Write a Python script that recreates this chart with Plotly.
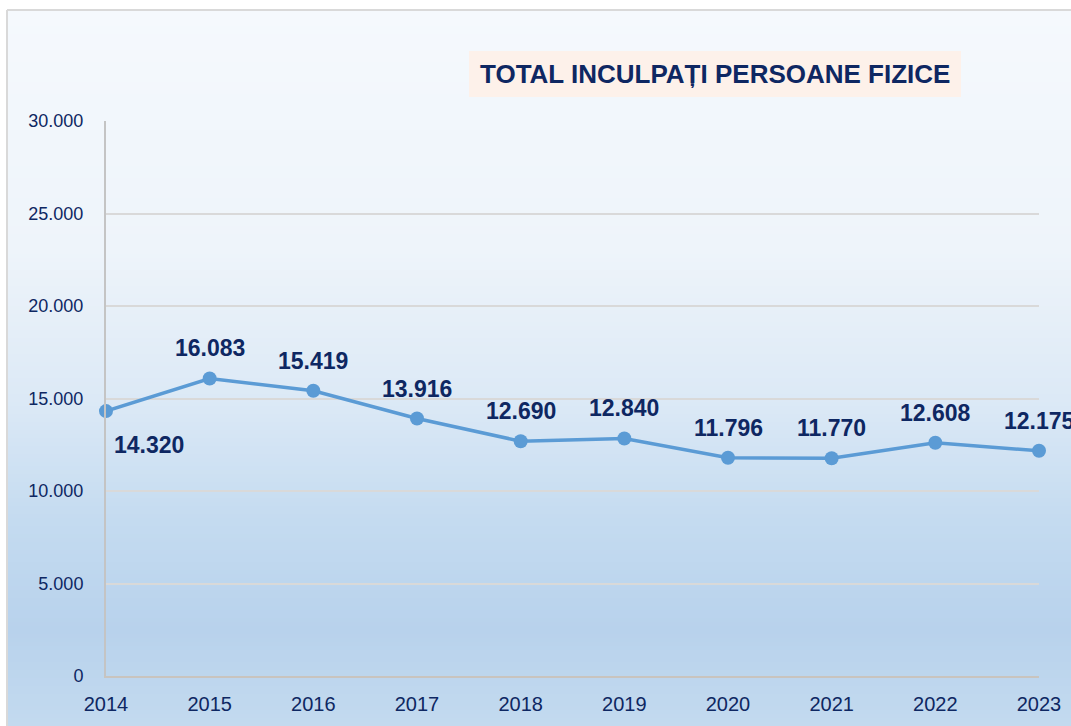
import plotly.graph_objects as go

# ---- data ----
years = [2014, 2015, 2016, 2017, 2018, 2019, 2020, 2021, 2022, 2023]
values = [14320, 16083, 15419, 13916, 12690, 12840, 11796, 11770, 12608, 12175]
y_ticks = [0, 5000, 10000, 15000, 20000, 25000, 30000]
y_tick_labels = ["0", "5.000", "10.000", "15.000", "20.000", "25.000", "30.000"]
x_tick_labels = [str(y) for y in years]
title_text = "TOTAL INCULPAȚI PERSOANE FIZICE"

W, H = 1071, 726
L, R, T, B = 106, 32, 121, 50
PW, PH = W - L - R, H - T - B

NAVY = "#0e2762"
FONT = "Liberation Sans, Arial, sans-serif"


def px_x(px):
    return (px - L) / PW


def px_y(py):
    return (H - B - py) / PH


def hex2rgb(h):
    h = h.lstrip("#")
    return [int(h[i:i + 2], 16) for i in (0, 2, 4)]


# background gradient stops (pixel y, colour)
stops = [(10, "#f5f9fd"), (250, "#eef4fa"), (400, "#dce9f6"), (520, "#c4dbf0"),
         (630, "#b8d2ec"), (726, "#c3daef")]


def colour_at(py):
    for (y0, c0), (y1, c1) in zip(stops[:-1], stops[1:]):
        if y0 <= py <= y1:
            t = (py - y0) / (y1 - y0)
            a, b = hex2rgb(c0), hex2rgb(c1)
            return "rgb(%d,%d,%d)" % tuple(round(a[i] + (b[i] - a[i]) * t) for i in range(3))
    return stops[-1][1]


shapes = []
step = 4
py = 10
while py < H:
    shapes.append(dict(type="rect", xref="paper", yref="paper", layer="below",
                       x0=px_x(7), x1=px_x(W + 5), y0=px_y(py), y1=px_y(min(py + step + 1, H + 2)),
                       fillcolor=colour_at(py + step / 2), line=dict(width=0)))
    py += step

# frame border (top and left)
shapes.append(dict(type="line", xref="paper", yref="paper", layer="below",
                   x0=px_x(7), x1=px_x(W + 5), y0=px_y(10), y1=px_y(10),
                   line=dict(color="#d9d9d9", width=2)))
shapes.append(dict(type="line", xref="paper", yref="paper", layer="below",
                   x0=px_x(7), x1=px_x(7), y0=px_y(10), y1=px_y(H + 5),
                   line=dict(color="#d9d9d9", width=2)))
# title box
shapes.append(dict(type="rect", xref="paper", yref="paper", layer="below",
                   x0=px_x(469), x1=px_x(961), y0=px_y(97), y1=px_y(51),
                   fillcolor="#fdf1ea", line=dict(width=0)))

fig = go.Figure()
fig.add_trace(go.Scatter(
    x=years, y=values, mode="lines+markers",
    line=dict(color="#5b9bd5", width=3.5),
    marker=dict(color="#5b9bd5", size=14),
    cliponaxis=False, hoverinfo="skip", showlegend=False,
))

annotations = []
for i, (x, v) in enumerate(zip(years, values)):
    label = f"{v:,}".replace(",", ".")
    if i == 0:
        xs, ys = 43, -34
    else:
        xs, ys = 0, 30
    annotations.append(dict(x=x, y=v, xref="x", yref="y", text="<b>" + label + "</b>",
                            showarrow=False, xshift=xs, yshift=ys,
                            font=dict(family=FONT, size=23, color=NAVY)))

annotations.append(dict(x=px_x(715), y=px_y(74), xref="paper", yref="paper",
                        text="<b>" + title_text + "</b>", showarrow=False,
                        xanchor="center", yanchor="middle",
                        font=dict(family=FONT, size=26, color=NAVY)))

fig.update_layout(
    width=W, height=H,
    margin=dict(l=L, r=R, t=T, b=B, pad=0, autoexpand=False),
    paper_bgcolor="white",
    plot_bgcolor="rgba(0,0,0,0)",
    shapes=shapes,
    annotations=annotations,
    xaxis=dict(range=[years[0], years[-1]], tickvals=years, ticktext=x_tick_labels,
               automargin=False,
               showgrid=False, zeroline=False, showline=True, linecolor="#c9c4be", linewidth=2,
               ticks="outside", ticklen=9, tickcolor="rgba(0,0,0,0)",
               tickfont=dict(family=FONT, size=20, color=NAVY)),
    yaxis=dict(range=[0, 30000], tickvals=y_ticks, ticktext=y_tick_labels,
               automargin=False,
               showgrid=True, gridcolor="#d9d9d9", gridwidth=1.5, zeroline=False,
               showline=True, linecolor="#c4c4c4", linewidth=2,
               ticks="outside", ticklen=17, tickcolor="rgba(0,0,0,0)",
               tickfont=dict(family=FONT, size=18, color=NAVY)),
)

fig.write_html(
    "out.html",
    config={"displayModeBar": False},
    post_script="document.body.style.margin='0';document.body.style.overflow='hidden';",
)
